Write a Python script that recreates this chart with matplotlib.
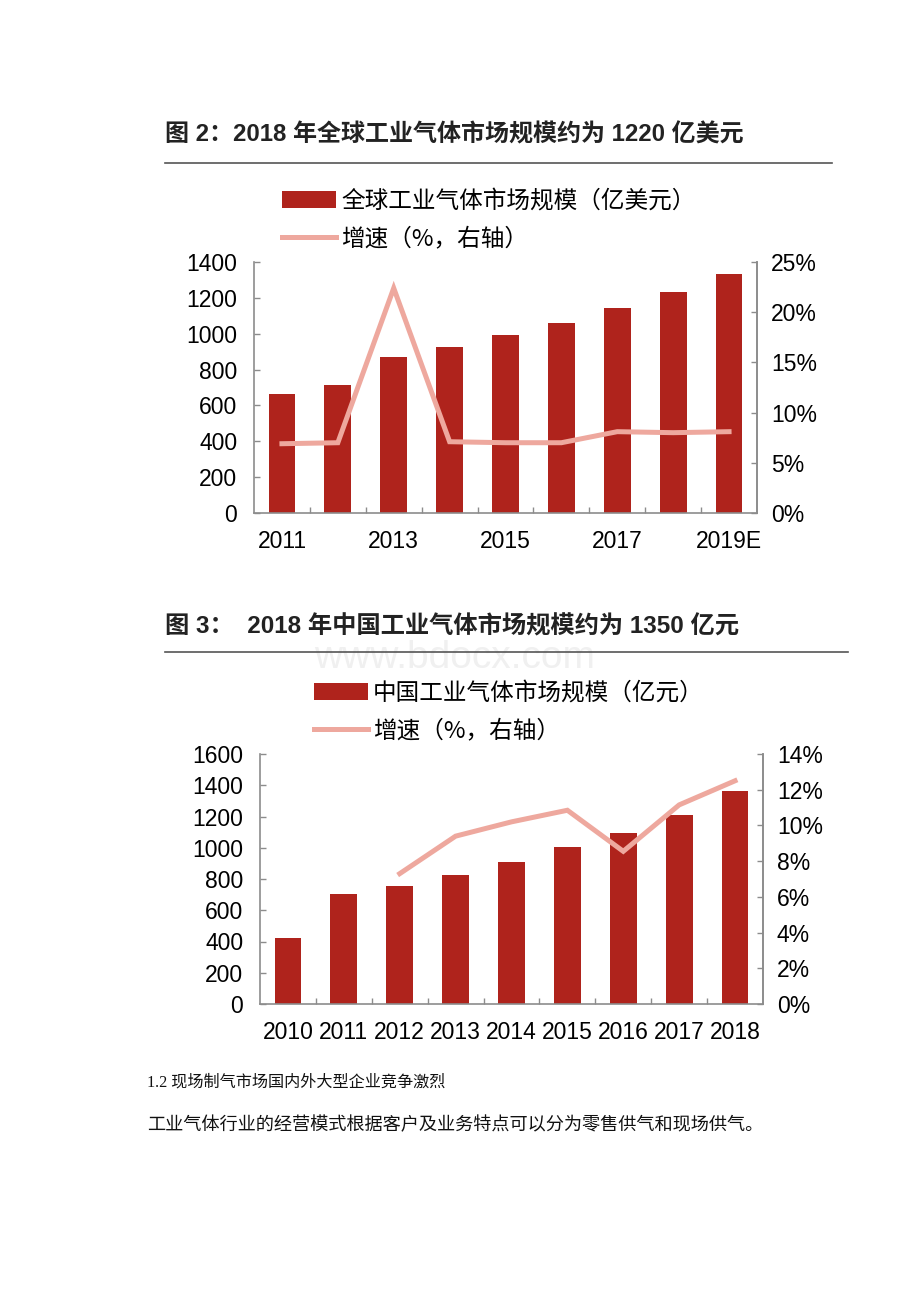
import matplotlib
matplotlib.use("Agg")
import matplotlib.pyplot as plt
from matplotlib.lines import Line2D
from matplotlib.patches import Patch
from matplotlib.ticker import FuncFormatter

plt.rcParams['font.family'] = ['Liberation Sans', 'Noto Sans CJK SC', 'DejaVu Sans']

# 图2 数据：全球工业气体市场规模（亿美元）与增速（%）
global_years = ['2011', '2012', '2013', '2014', '2015', '2016', '2017', '2018', '2019E']
global_size = [666, 712, 868, 928, 991, 1060, 1143, 1234, 1333]
global_growth = [6.9, 7.0, 22.4, 7.1, 7.0, 7.0, 8.1, 8.0, 8.1]
global_labels = ['2011', '', '2013', '', '2015', '', '2017', '', '2019E']

# 图3 数据：中国工业气体市场规模（亿元）与增速（%）
china_years = ['2010', '2011', '2012', '2013', '2014', '2015', '2016', '2017', '2018']
china_size = [422, 706, 757, 828, 912, 1008, 1094, 1212, 1364]
china_growth_years = ['2012', '2013', '2014', '2015', '2016', '2017', '2018']
china_growth = [7.3, 9.4, 10.2, 10.85, 8.55, 11.15, 12.5]

BAR_COLOR = '#AF231C'
LINE_COLOR = '#EEA89E'
AXIS_COLOR = '#8C8C8C'
W, H = 920, 1302


def fx(px):
    return px / W


def fy(py):
    return 1 - py / H


def draw_chart(rect, cats, sizes, line_cats, growth, xlabels,
               ymax, ystep, rmax, rstep, legend_xy, bar_label, line_label):
    ax = fig.add_axes(rect)
    x = list(range(len(cats)))
    ax.bar(x, sizes, width=0.48, color=BAR_COLOR, zorder=2)
    ax.set_xlim(-0.5, len(cats) - 0.5)
    ax.set_ylim(0, ymax)
    ax.set_yticks(range(0, ymax + 1, ystep))
    ax.set_xticks(x, xlabels)
    ax.set_xticks([i - 0.5 for i in range(1, len(cats))], minor=True)
    ax.tick_params(axis='x', which='major', length=0, pad=12, labelsize=16.5)
    ax.tick_params(axis='x', which='minor', direction='in', length=4.5,
                   color=AXIS_COLOR, width=1)
    ax.tick_params(axis='y', direction='in', length=4.5, color=AXIS_COLOR,
                   width=1, labelsize=16.5, pad=12)
    for s in ['left', 'bottom', 'right']:
        ax.spines[s].set_color(AXIS_COLOR)
        ax.spines[s].set_linewidth(1.2)
    ax.spines['top'].set_visible(False)

    ax2 = ax.twinx()
    lx = [cats.index(c) for c in line_cats]
    ax2.plot(lx, growth, color=LINE_COLOR, lw=3.6, zorder=3,
             solid_joinstyle='miter')
    ax2.set_ylim(0, rmax)
    ax2.set_yticks([v for v in range(0, rmax + 1, rstep)])
    ax2.yaxis.set_major_formatter(FuncFormatter(lambda v, p: f'{v:.0f}%'))
    ax2.tick_params(axis='y', direction='in', length=4.5, color=AXIS_COLOR,
                    width=1, labelsize=16.5, pad=10)
    for s in ['left', 'bottom', 'top']:
        ax2.spines[s].set_visible(False)
    ax2.spines['right'].set_color(AXIS_COLOR)
    ax2.spines['right'].set_linewidth(1.2)

    handles = [Patch(facecolor=BAR_COLOR, edgecolor='none'),
               Line2D([], [], color=LINE_COLOR, lw=3.6)]
    fig.legend(handles, [bar_label, line_label], loc='upper left',
               bbox_to_anchor=legend_xy, frameon=False, borderpad=0,
               borderaxespad=0, handlelength=2.3, handletextpad=0.2,
               labelspacing=0.6, prop={'family': ['Noto Sans CJK SC'], 'size': 17})
    return ax


fig = plt.figure(figsize=(9.2, 13.02), dpi=100)

# 水印
fig.text(fx(455), fy(658), 'www.bdocx.com', ha='center', va='center',
         fontsize=28, color='#F0F0F0', zorder=0)

# 图2 标题
fig.text(fx(165), fy(135), '图 2：2018 年全球工业气体市场规模约为 1220 亿美元',
         ha='left', va='center', fontsize=17.3, fontweight='bold', color='#222222')
fig.add_artist(Line2D([fx(165), fx(832)], [fy(163), fy(163)], color='#555555', lw=1.2))

draw_chart([fx(254), fy(513), fx(757) - fx(254), fy(262) - fy(513)],
           global_years, global_size, global_years, global_growth, global_labels,
           1400, 200, 25, 5, (fx(282), fy(190)),
           '全球工业气体市场规模（亿美元）', '增速（%，右轴）')

# 图3 标题
fig.text(fx(165), fy(627), '图 3：  2018 年中国工业气体市场规模约为 1350 亿元',
         ha='left', va='center', fontsize=17.5, fontweight='bold', color='#222222')
fig.add_artist(Line2D([fx(165), fx(848)], [fy(652), fy(652)], color='#555555', lw=1.2))

draw_chart([fx(260), fy(1004), fx(763) - fx(260), fy(754) - fy(1004)],
           china_years, china_size, china_growth_years, china_growth, china_years,
           1600, 200, 14, 2, (fx(314), fy(682)),
           '中国工业气体市场规模（亿元）', '增速（%，右轴）')

# 正文
body_font = ['Liberation Serif', 'Noto Sans CJK SC']
fig.text(fx(147), fy(1083), '1.2 现场制气市场国内外大型企业竞争激烈',
         ha='left', va='center', fontsize=11.6, family=body_font, color='#111111')
fig.text(fx(147), fy(1125), '工业气体行业的经营模式根据客户及业务特点可以分为零售供气和现场供气。',
         ha='left', va='center', fontsize=13.1, family=body_font, color='#111111')

fig.savefig('out.png', dpi=100)
